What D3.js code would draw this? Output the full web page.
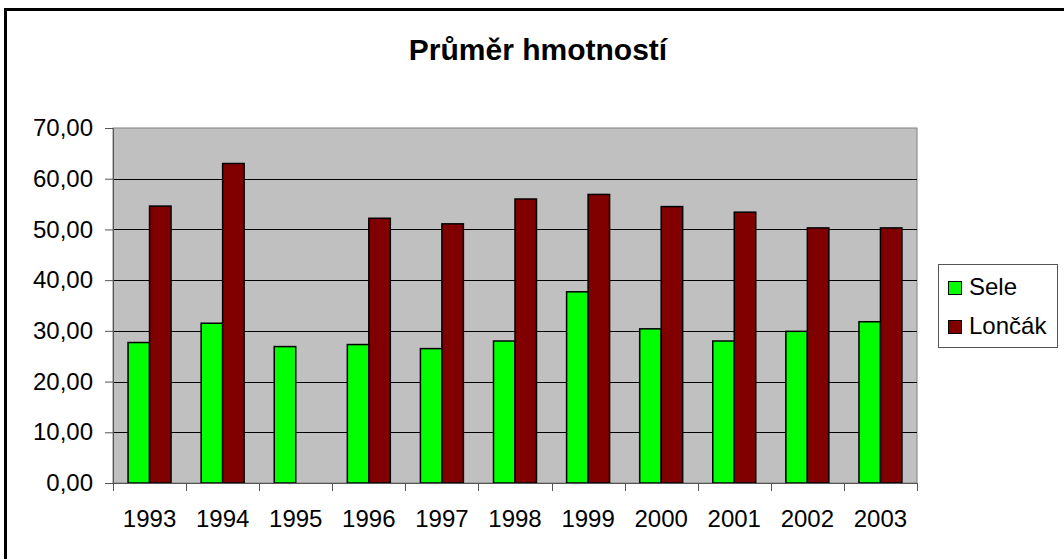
<!DOCTYPE html>
<html>
<head>
<meta charset="utf-8">
<script src="https://cdn.jsdelivr.net/npm/d3@7"></script>
<style>
body { margin: 0; background: #fff; }
text { font-family: "Liberation Sans", Arial, sans-serif; fill: #000; }
</style>
</head>
<body>
<div id="Container"></div>
<script>
var roky = ["1993","1994","1995","1996","1997","1998","1999","2000","2001","2002","2003"];
var serie = ["Sele","Lončák"];
var sele = [27.7, 31.5, 26.9, 27.3, 26.5, 28.0, 37.7, 30.4, 28.0, 29.9, 31.8];
var loncak = [54.6, 63.0, null, 52.2, 51.1, 56.0, 56.9, 54.5, 53.4, 50.3, 50.3];
var yTicks = [0, 10, 20, 30, 40, 50, 60, 70];
var barvy = ["#00FF00", "#800000"];

var margin = { top: 128, right: 147, bottom: 76, left: 113 }
    w = 1064 - margin.left - margin.right
    h = 559 - margin.top - margin.bottom
    canvas = d3.select("#Container").append("svg")
        .attr("width", 1064)
        .attr("height", 559)

// vnejsi ramecek grafu
canvas.append("rect")
    .attr("x", 5.5).attr("y", 9.5)
    .attr("width", 1070).attr("height", 570)
    .attr("fill", "none")
    .attr("stroke", "#000")
    .attr("stroke-width", 3);

canvas.append("text")
    .text("Průměr hmotností")
    .attr("x", 538)
    .attr("y", 60)
    .attr("text-anchor", "middle")
    .attr("font-size", 30)
    .attr("font-weight", "bold");

var svg = canvas.append("g")
    .attr("transform", "translate(" + margin.left + "," + margin.top + ")");

var cz = d3.formatLocale({ decimal: ",", thousands: " ", grouping: [3], currency: ["", " Kč"] });
var fmt = cz.format(".2f");

var x = d3.scaleBand()
    .domain(roky)
    .range([0, w])
    .paddingInner(0.412)
    .paddingOuter(0.206);

var x1 = d3.scaleBand()
    .domain(serie)
    .range([0, x.bandwidth()]);

var y = d3.scaleLinear()
    .domain([0, 70])
    .range([h, 0]);

svg.append("rect")
    .attr("width", w).attr("height", h)
    .attr("fill", "#C0C0C0")
    .attr("stroke", "#808080")
    .attr("stroke-width", 1);

svg.selectAll("grid").data(yTicks.slice(1, -1))
    .enter().append("line")
        .attr("x1", 0).attr("x2", w)
        .attr("y1", function(d) { return Math.round(y(d)) + 0.5; })
        .attr("y2", function(d) { return Math.round(y(d)) + 0.5; })
        .attr("stroke", "#000")
        .attr("stroke-width", 1);

var data = roky.map(function(r, i) {
    return { rok: r, hodnoty: [
        { s: "Sele", v: sele[i], c: barvy[0] },
        { s: "Lončák", v: loncak[i], c: barvy[1] }
    ]};
});

var skup = svg.selectAll("g.rok").data(data)
    .enter().append("g")
        .attr("class", "rok")
        .attr("transform", function(d) { return "translate(" + x(d.rok) + ",0)"; });

skup.selectAll("rect")
    .data(function(d) { return d.hodnoty.filter(function(e) { return e.v != null; }); })
    .enter().append("rect")
        .attr("x", function(d) { return x1(d.s); })
        .attr("y", function(d) { return y(d.v); })
        .attr("width", x1.bandwidth())
        .attr("height", function(d) { return h - y(d.v); })
        .attr("fill", function(d) { return d.c; })
        .attr("stroke", "#000")
        .attr("stroke-width", 1.5);

// osa y
var yax = svg.append("g")
    .call(d3.axisLeft(y).tickValues(yTicks).tickFormat(fmt).tickSize(8).tickPadding(12));
yax.select(".domain").attr("stroke", "#555");
yax.selectAll(".tick line").attr("stroke", "#555");
yax.selectAll("text").attr("font-size", 24).attr("font-family", "Liberation Sans, Arial, sans-serif");

// osa x
var xax = svg.append("g")
    .attr("transform", "translate(0," + h + ")");
xax.append("line")
    .attr("x1", 0).attr("x2", w)
    .attr("y1", 0.5).attr("y2", 0.5)
    .attr("stroke", "#555");
xax.selectAll("tk").data(d3.range(roky.length + 1))
    .enter().append("line")
        .attr("x1", function(i) { return Math.round(i * x.step()) + 0.5; })
        .attr("x2", function(i) { return Math.round(i * x.step()) + 0.5; })
        .attr("y1", 0).attr("y2", 8)
        .attr("stroke", "#555");
xax.selectAll("lbl").data(roky)
    .enter().append("text")
        .text(function(d) { return d; })
        .attr("x", function(d) { return x(d) + x.bandwidth() / 2; })
        .attr("y", 44)
        .attr("text-anchor", "middle")
        .attr("font-size", 24);

// legenda
var leg = canvas.append("g");
leg.append("rect")
    .attr("x", 938.5).attr("y", 264.5)
    .attr("width", 119).attr("height", 83)
    .attr("fill", "#fff")
    .attr("stroke", "#555")
    .attr("stroke-width", 1);

leg.selectAll("sw").data(serie)
    .enter().append("rect")
        .attr("x", 948.5)
        .attr("y", function(d, i) { return 281.5 + i * 39; })
        .attr("width", 13).attr("height", 13)
        .attr("fill", function(d, i) { return barvy[i]; })
        .attr("stroke", "#000");

leg.selectAll("lt").data(serie)
    .enter().append("text")
        .text(function(d) { return d; })
        .attr("x", 969)
        .attr("y", function(d, i) { return 295 + i * 39; })
        .attr("font-size", 24);
</script>
</body>
</html>
